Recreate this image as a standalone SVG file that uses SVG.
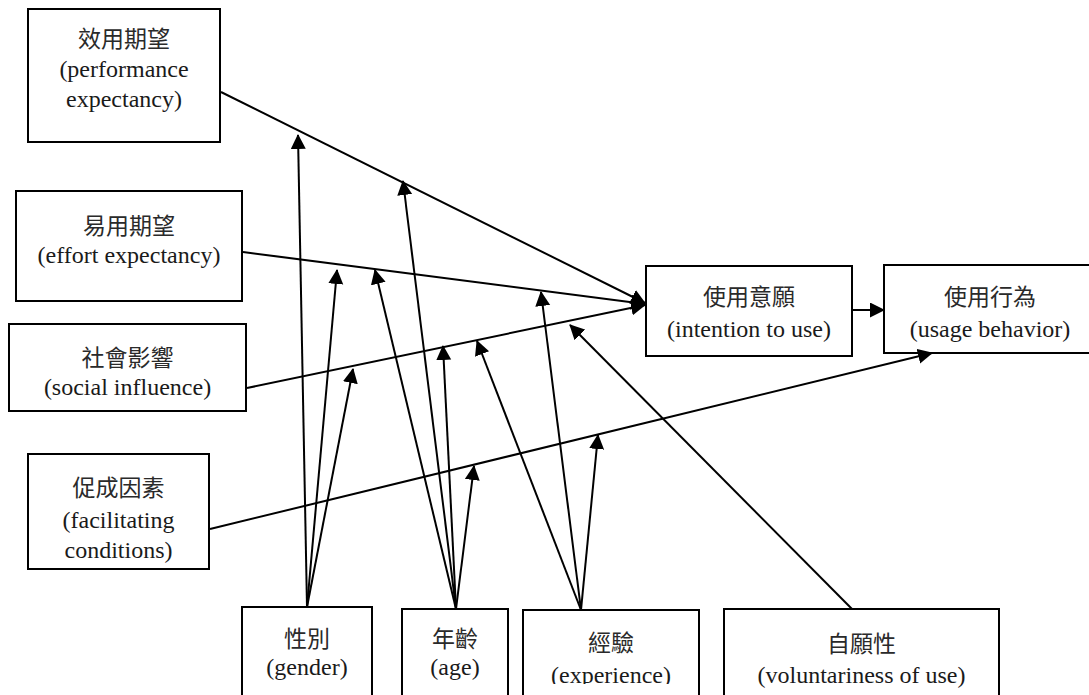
<svg xmlns="http://www.w3.org/2000/svg" width="1089" height="695" viewBox="0 0 1089 695">
<style>
.box{fill:#fff;stroke:#000;stroke-width:2}
.en{font-family:'Liberation Serif','DejaVu Serif','Times New Roman',serif;font-size:24px;fill:#1a1a1a;text-anchor:middle}
.zh{font-family:'Noto Sans CJK TC','Noto Sans CJK SC',sans-serif;font-size:23px;fill:#2a2a2a;text-anchor:middle}
.ln{stroke:#000;stroke-width:2;fill:none;marker-end:url(#ah)}
</style>
<defs>
<marker id="ah" markerUnits="userSpaceOnUse" markerWidth="16" markerHeight="16" refX="14" refY="7.5" orient="auto">
<path d="M0,0 L15,7.5 L0,15 z" fill="#000"/>
</marker>
<clipPath id="expclip"><rect x="520" y="600" width="200" height="84"/></clipPath>
</defs>
<rect width="1089" height="695" fill="#fff"/>

<g id="performance">
<rect class="box" x="28" y="9" width="192" height="133"/>
<text class="zh" x="124" y="47">效用期望</text>
<text class="en" font-family="Liberation Serif, serif" x="124" y="77">(performance</text>
<text class="en" font-family="Liberation Serif, serif" x="124" y="107">expectancy)</text>
</g>
<g id="effort">
<rect class="box" x="16" y="191" width="226" height="110"/>
<text class="zh" x="129" y="234">易用期望</text>
<text class="en" x="129" y="263">(effort expectancy)</text>
</g>
<g id="social">
<rect class="box" x="9" y="324" width="237" height="87"/>
<text class="zh" x="127.5" y="366">社會影響</text>
<text class="en" x="127.5" y="395">(social influence)</text>
</g>
<g id="facilitating">
<rect class="box" x="28" y="454" width="181" height="115"/>
<text class="zh" x="118.5" y="496">促成因素</text>
<text class="en" x="118.5" y="528">(facilitating</text>
<text class="en" x="118.5" y="558">conditions)</text>
</g>
<g id="intention">
<rect class="box" x="646" y="266" width="206" height="90"/>
<text class="zh" x="749" y="305">使用意願</text>
<text class="en" x="749" y="337">(intention to use)</text>
</g>
<g id="usage">
<rect class="box" x="884" y="265" width="212" height="88"/>
<text class="zh" x="990" y="305">使用行為</text>
<text class="en" x="990" y="337">(usage behavior)</text>
</g>
<g id="gender">
<rect class="box" x="242" y="607" width="130" height="90"/>
<text class="zh" x="307" y="647">性別</text>
<text class="en" x="307" y="675">(gender)</text>
</g>
<g id="age">
<rect class="box" x="402" y="609" width="106" height="88"/>
<text class="zh" x="455" y="647">年齡</text>
<text class="en" x="455" y="675">(age)</text>
</g>
<g id="experience">
<rect class="box" x="523" y="610" width="176" height="87"/>
<text class="zh" x="611" y="651">經驗</text>
<text class="en" x="611" y="683" clip-path="url(#expclip)">(experience)</text>
</g>
<g id="voluntariness">
<rect class="box" x="724" y="609" width="275" height="88"/>
<text class="zh" x="861.5" y="652">自願性</text>
<text class="en" x="861.5" y="683">(voluntariness of use)</text>
</g>

<g id="connectors">
<line class="ln" x1="221" y1="92" x2="645" y2="303"/>
<line class="ln" x1="243" y1="252" x2="645" y2="304"/>
<line class="ln" x1="247" y1="388" x2="645" y2="305"/>
<line class="ln" x1="210" y1="529" x2="932" y2="353"/>
<line class="ln" x1="852" y1="310" x2="884" y2="310"/>
<line class="ln" x1="307" y1="607" x2="298" y2="135"/>
<line class="ln" x1="307" y1="607" x2="337" y2="270"/>
<line class="ln" x1="307" y1="607" x2="353" y2="369"/>
<line class="ln" x1="456" y1="609" x2="403" y2="181"/>
<line class="ln" x1="456" y1="609" x2="375" y2="270"/>
<line class="ln" x1="456" y1="609" x2="443" y2="346"/>
<line class="ln" x1="456" y1="609" x2="474" y2="466"/>
<line class="ln" x1="581" y1="610" x2="477" y2="341"/>
<line class="ln" x1="581" y1="610" x2="541" y2="292"/>
<line class="ln" x1="581" y1="610" x2="598" y2="435"/>
<line class="ln" x1="852" y1="609" x2="570" y2="325"/>
</g>
</svg>
